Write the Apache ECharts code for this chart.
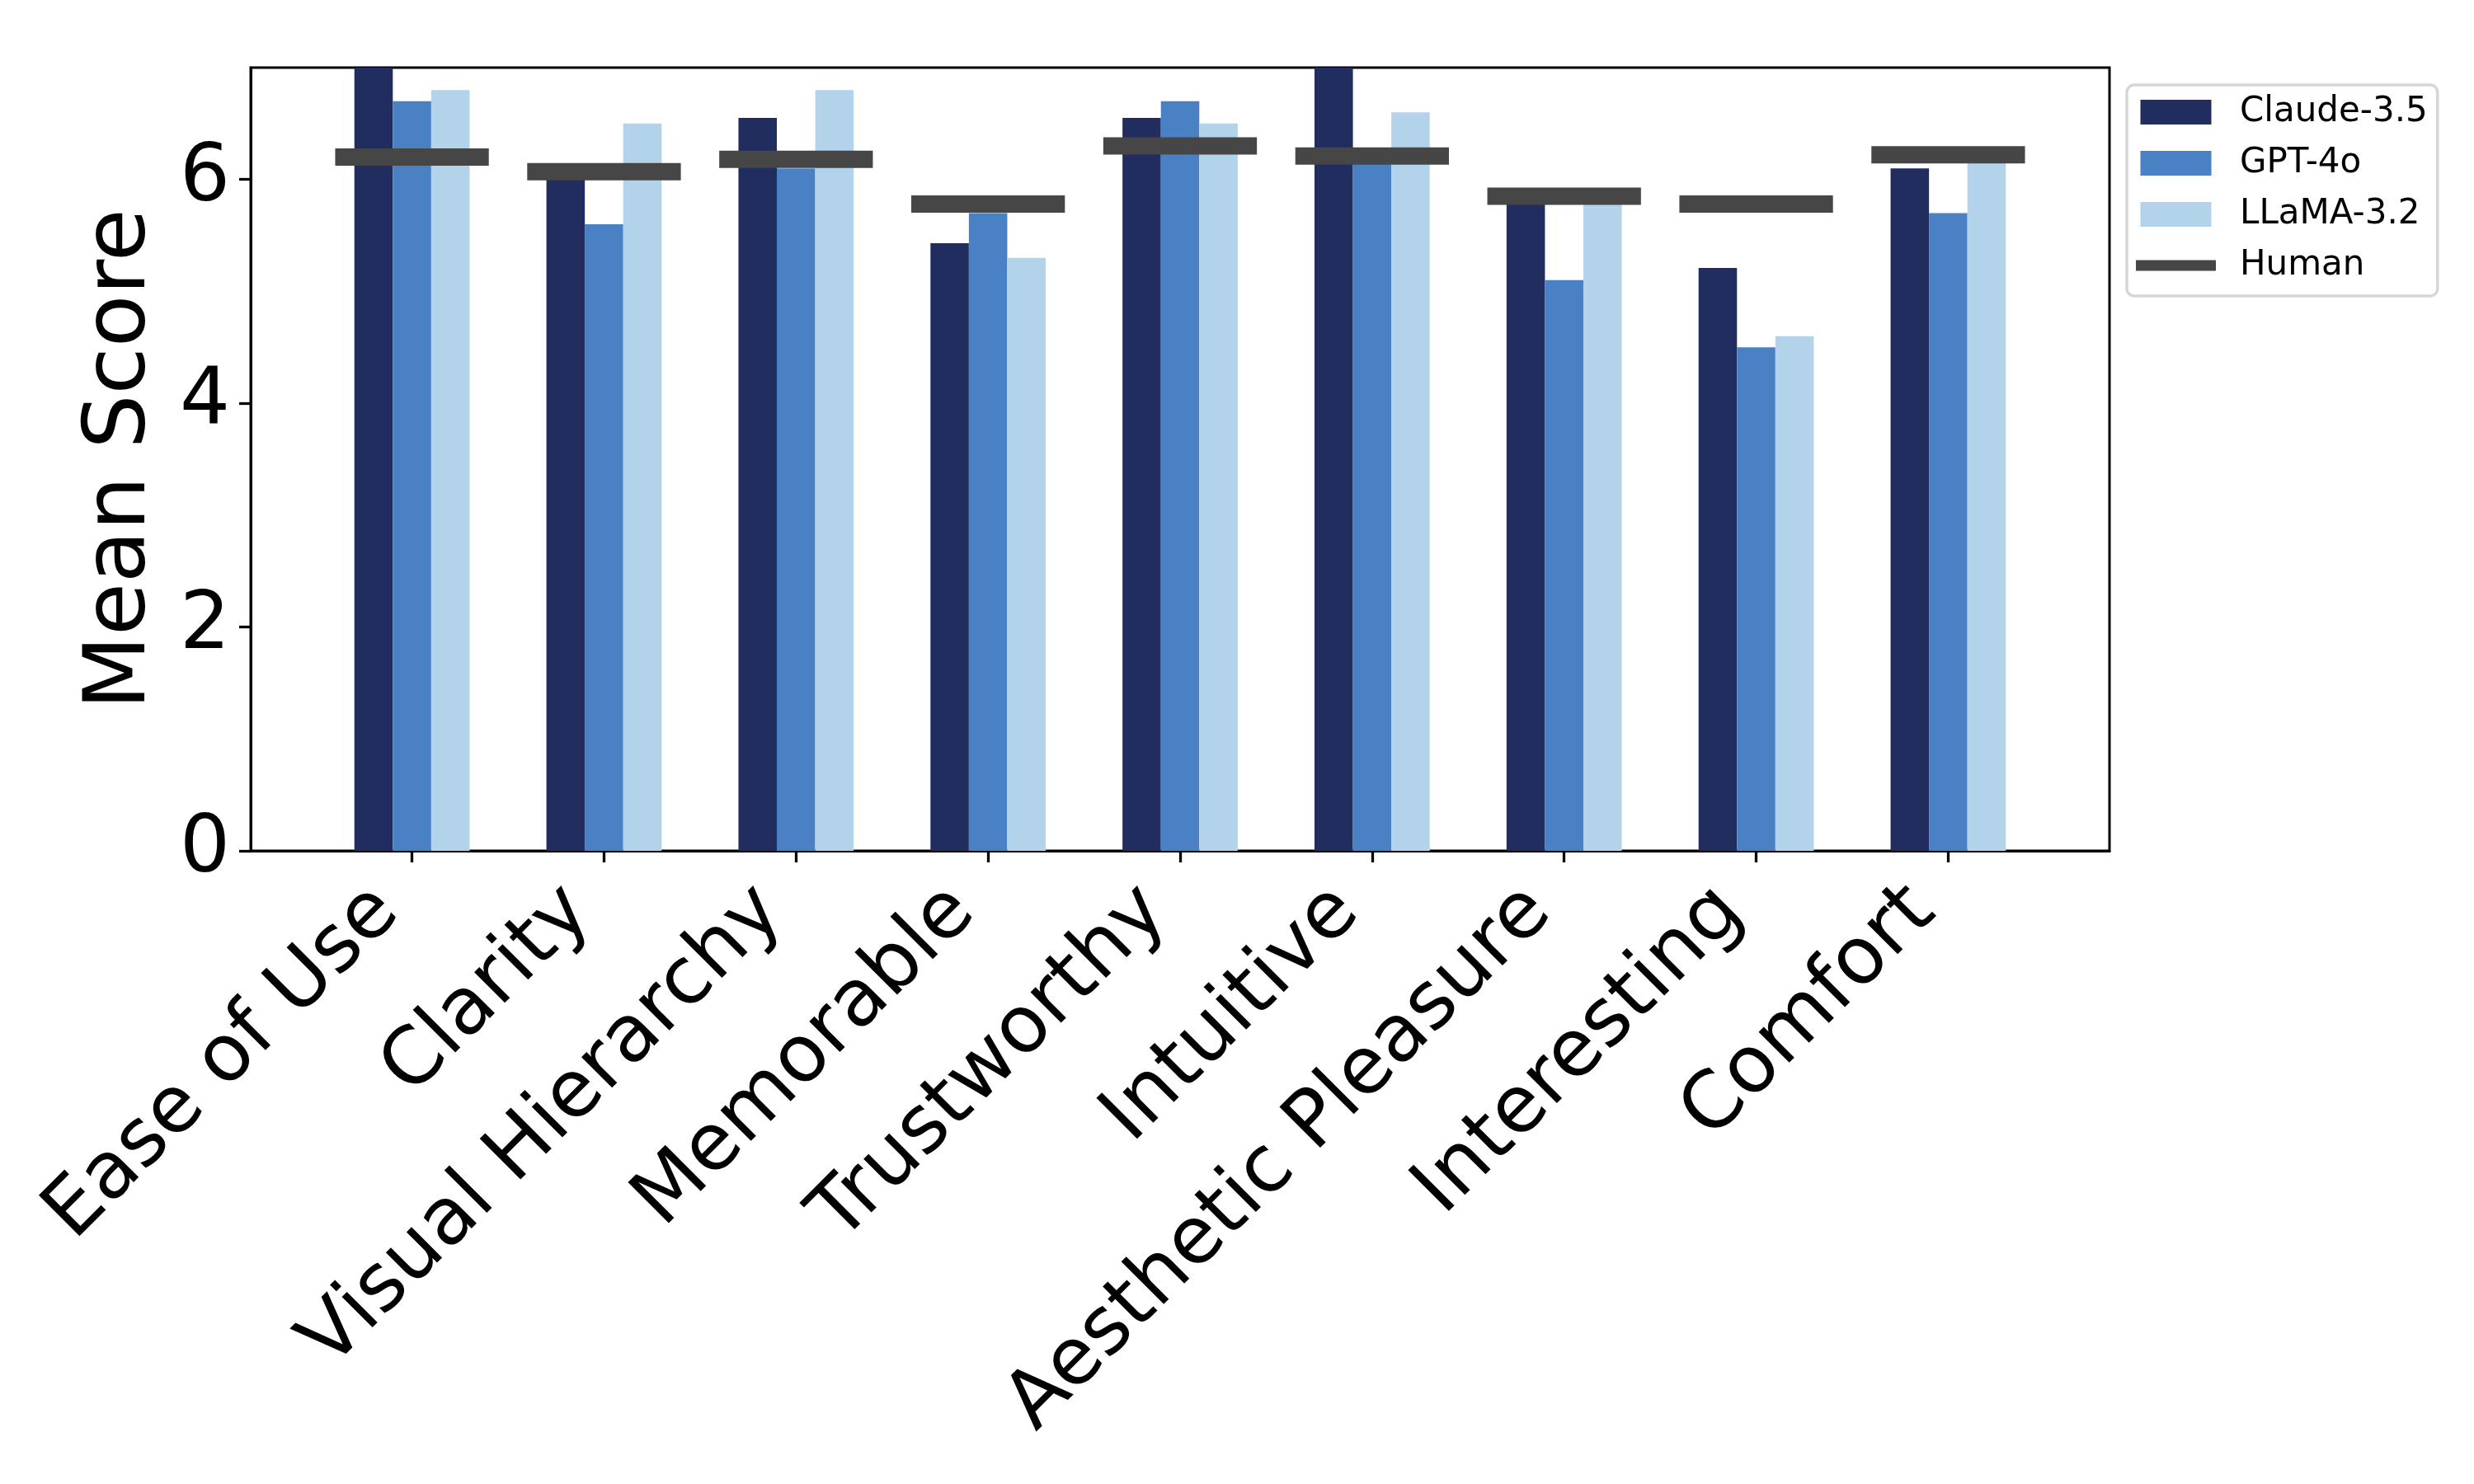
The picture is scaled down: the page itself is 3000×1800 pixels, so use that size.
<!DOCTYPE html>
<html>
<head>
<meta charset="utf-8">
<script src="https://cdn.jsdelivr.net/npm/echarts@6/dist/echarts.min.js"></script>
<style>
  html, body { margin: 0; padding: 0; background: #fff; }
  #chart { width: 3000px; height: 1800px; }
</style>
</head>
<body>
<div id="chart"></div>
<script>
const categories = ['Ease of Use', 'Clarity', 'Visual Hierarchy', 'Memorable', 'Trustworthy', 'Intuitive', 'Aesthetic Pleasure', 'Interesting', 'Comfort'];
const seriesNames = ['Claude-3.5', 'GPT-4o', 'LLaMA-3.2', 'Human'];
const claude = [7.1, 6.0, 6.55, 5.43, 6.55, 7.1, 5.8, 5.21, 6.1];
const gpt4o = [6.7, 5.6, 6.1, 5.7, 6.7, 6.2, 5.1, 4.5, 5.7];
const llama = [6.8, 6.5, 6.8, 5.3, 6.5, 6.6, 5.8, 4.6, 6.2];
const human = [6.2, 6.07, 6.18, 5.78, 6.3, 6.21, 5.85, 5.78, 6.22];
const yTicks = [0, 2, 4, 6];

const colors = ['#202d5e', '#4a81c4', '#b3d3eb', '#464646'];
const FONT = 'DejaVu Sans';

const idx = categories.map((c, i) => i);
const pairs = arr => arr.map((v, i) => [i, v]);

const chart = echarts.init(document.getElementById('chart'), null, { renderer: 'canvas' });

const barSeries = [claude, gpt4o, llama].map((arr, k) => ({
  name: seriesNames[k],
  type: 'bar',
  data: pairs(arr),
  barWidth: '20%',
  barGap: '0%',
  clip: true,
  itemStyle: { color: colors[k] },
  emphasis: { disabled: true }
}));

const humanSeries = {
  name: 'Human',
  type: 'custom',
  data: pairs(human),
  itemStyle: { color: colors[3] },
  clip: true,
  renderItem: function (params, api) {
    const i = api.value(0), v = api.value(1);
    const a = api.coord([i - 0.4, v]);
    const b = api.coord([i + 0.4, v]);
    return {
      type: 'line',
      shape: { x1: a[0], y1: a[1], x2: b[0], y2: b[1] },
      style: { stroke: colors[3], lineWidth: 21, lineCap: 'butt' }
    };
  },
  z: 5
};

const boxIcon = 'path://M0,0 M97,30 M5.5,0 L91.5,0 L91.5,30 L5.5,30 Z';
const lineIcon = 'path://M0,0 M97,30 M0,8.5 L97,8.5 L97,21.5 L0,21.5 Z';

const option = {
  backgroundColor: '#ffffff',
  animation: false,
  textStyle: { fontFamily: FONT },
  grid: {
    left: 304, right: 442, top: 82, bottom: 768,
    show: true, borderColor: '#000', borderWidth: 3, backgroundColor: 'transparent'
  },
  legend: {
    orient: 'vertical',
    left: 2579, top: 103,
    padding: [9, 12, 13, 11],
    itemWidth: 97, itemHeight: 30, itemGap: 14,
    backgroundColor: '#ffffff',
    borderColor: '#d6d6d6', borderWidth: 3.5, borderRadius: 9,
    textStyle: { fontFamily: FONT, fontSize: 42, color: '#000', lineHeight: 48, padding: [0, 0, 0, 24] },
    data: [
      { name: seriesNames[0], icon: boxIcon },
      { name: seriesNames[1], icon: boxIcon },
      { name: seriesNames[2], icon: boxIcon },
      { name: seriesNames[3], icon: lineIcon }
    ],
    selectedMode: false
  },
  xAxis: {
    type: 'value',
    min: -0.84, max: 8.84,
    splitLine: { show: false },
    axisLine: { show: true, onZero: false, lineStyle: { color: '#000', width: 3 } },
    axisTick: { show: true, customValues: idx, length: 14, lineStyle: { color: '#000', width: 3.3 } },
    axisLabel: {
      customValues: idx,
      formatter: v => categories[Math.round(v)],
      rotate: 45,
      margin: 29,
      padding: [0, 43, 0, 0],
      fontFamily: FONT, fontSize: 96, color: '#000'
    }
  },
  yAxis: {
    type: 'value',
    min: 0, max: 7,
    name: 'Mean Score',
    nameLocation: 'middle',
    nameGap: 104,
    nameTextStyle: { fontFamily: FONT, fontSize: 104, color: '#000' },
    splitLine: { show: false },
    axisLine: { show: true, onZero: false, lineStyle: { color: '#000', width: 3 } },
    axisTick: { show: true, customValues: yTicks, length: 14, lineStyle: { color: '#000', width: 3.3 } },
    axisLabel: { customValues: yTicks, margin: 25, padding: [12, 0, 0, 0], fontFamily: FONT, fontSize: 96, color: '#000' }
  },
  series: barSeries.concat([humanSeries])
};

chart.setOption(option);
</script>
</body>
</html>
